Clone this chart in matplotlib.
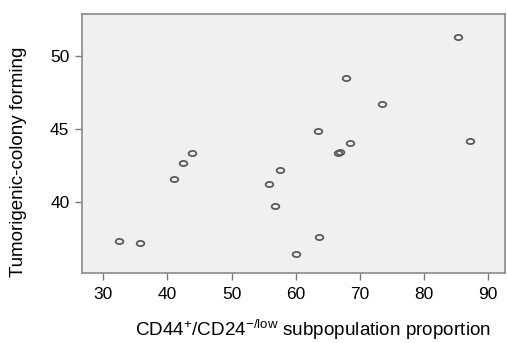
import matplotlib
matplotlib.use("Agg")
import matplotlib.pyplot as plt
import numpy as np
from matplotlib.path import Path

plt.rcParams['font.family'] = ['Liberation Sans', 'DejaVu Sans']
plt.rcParams['mathtext.fontset'] = 'custom'
plt.rcParams['mathtext.rm'] = 'Liberation Sans'

cd44_proportion = [32.4, 35.8, 41.0, 42.4, 43.9, 55.8, 57.5, 56.8, 60.0, 63.6,
                   63.5, 66.6, 66.9, 68.4, 67.9, 73.5, 85.3, 87.1]
colony_forming = [37.34, 37.2, 41.57, 42.67, 43.36, 41.26, 42.17, 39.7, 36.45, 37.6,
                  44.84, 43.38, 43.4, 44.04, 48.46, 46.68, 51.3, 44.15]
x_ticks = [30, 40, 50, 60, 70, 80, 90]
y_ticks = [40, 45, 50]

t = np.linspace(0, 2 * np.pi, 40)
ellipse = Path(np.column_stack([np.cos(t), 0.68 * np.sin(t)]), closed=True)

fig = plt.figure(figsize=(5.07, 3.43), dpi=100)
ax = fig.add_axes([0.1617, 0.204, 0.8343, 0.755])
ax.set_facecolor('#f0f0f0')
ax.plot(cd44_proportion, colony_forming, linestyle='none', marker=ellipse,
        markersize=5.5, markerfacecolor='none', markeredgecolor='#5a5a5a',
        markeredgewidth=1.3)
ax.set_xlim(26.7, 92.6)
ax.set_ylim(35.14, 52.86)
ax.set_xticks(x_ticks)
ax.set_yticks(y_ticks)
for s in ax.spines.values():
    s.set_color('#8a8a8a')
    s.set_linewidth(1.2)
ax.tick_params(axis='both', colors='#777777', labelcolor='black', labelsize=12.5,
               length=5, width=1, direction='out')
ax.tick_params(axis='x', pad=5)
ax.tick_params(axis='y', pad=4)
ax.set_xlabel(r'CD44$^{\mathrm{+}}$/CD24$^{\mathrm{-/low}}$ subpopulation proportion',
              fontsize=13.6, va='center')
ax.xaxis.set_label_coords(0.546, -0.217)
ax.set_ylabel('Tumorigenic-colony forming', fontsize=13.5, va='center')
ax.yaxis.set_label_coords(-0.151, 0.43)
fig.savefig('out.png', dpi=100, facecolor='white')
